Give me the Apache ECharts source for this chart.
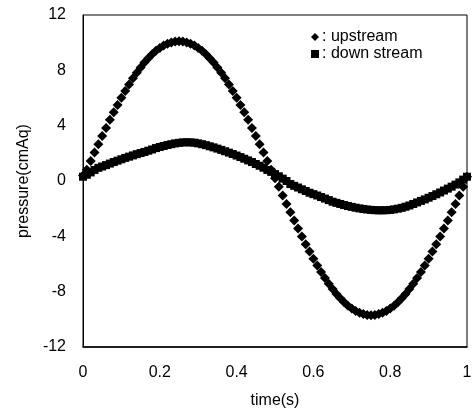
<!DOCTYPE html>
<html>
<head>
<meta charset="utf-8">
<script src="https://cdn.jsdelivr.net/npm/echarts@6/dist/echarts.min.js"></script>
<style>
html,body{margin:0;padding:0;background:#fff;}
#chart{width:472px;height:409px;}
</style>
</head>
<body>
<div id="chart"></div>
<script>
// time samples (s)
var timeValues = [];
for (var i = 0; i <= 100; i++) { timeValues.push(+(i / 100).toFixed(2)); }

// pressure (cmAq)
var upstream = [
 0.40, 0.82, 1.44, 2.06, 2.66, 3.26, 3.84, 4.42, 4.97, 5.50,
 6.02, 6.51, 6.98, 7.42, 7.83, 8.21, 8.56, 8.88, 9.16, 9.41,
 9.62, 9.79, 9.92, 10.02, 10.08, 10.10, 10.08, 10.02, 9.92, 9.79,
 9.62, 9.41, 9.16, 8.88, 8.56, 8.21, 7.83, 7.42, 6.98, 6.51,
 6.02, 5.50, 4.97, 4.42, 3.84, 3.26, 2.66, 2.06, 1.44, 0.82,
 0.20, -0.42, -1.04, -1.66, -2.26, -2.86, -3.44, -4.02, -4.57, -5.10,
 -5.62, -6.11, -6.58, -7.02, -7.43, -7.81, -8.16, -8.48, -8.76, -9.01,
 -9.22, -9.39, -9.52, -9.62, -9.68, -9.70, -9.68, -9.62, -9.52, -9.39,
 -9.22, -9.01, -8.76, -8.48, -8.16, -7.81, -7.43, -7.02, -6.58, -6.11,
 -5.62, -5.10, -4.57, -4.02, -3.44, -2.86, -2.26, -1.66, -1.04, -0.42,
 0.30
];
var downstream = [
 0.31, 0.45, 0.62, 0.80, 0.95, 1.05, 1.15, 1.26, 1.37, 1.47,
 1.57, 1.67, 1.76, 1.85, 1.94, 2.02, 2.10, 2.19, 2.28, 2.38,
 2.46, 2.53, 2.60, 2.66, 2.72, 2.76, 2.79, 2.80, 2.79, 2.77,
 2.72, 2.66, 2.59, 2.51, 2.43, 2.34, 2.25, 2.15, 2.05, 1.95,
 1.84, 1.73, 1.61, 1.49, 1.37, 1.23, 1.10, 0.96, 0.80, 0.66,
 0.50, 0.34, 0.17, 0.00, -0.22, -0.35, -0.47, -0.60, -0.72, -0.85,
 -0.95, -1.05, -1.16, -1.27, -1.38, -1.50, -1.58, -1.66, -1.74, -1.81,
 -1.87, -1.93, -1.98, -2.02, -2.06, -2.09, -2.11, -2.12, -2.12, -2.11,
 -2.09, -2.05, -2.00, -1.94, -1.86, -1.77, -1.66, -1.55, -1.44, -1.33,
 -1.21, -1.09, -0.96, -0.83, -0.69, -0.55, -0.41, -0.26, -0.10, 0.10,
 0.31
];

var seriesNames = ['upstream', 'down stream'];
var xTickLabels = ['0', '0.2', '0.4', '0.6', '0.8', '1'];
var yTickLabels = ['-12', '-8', '-4', '0', '4', '8', '12'];

function pairs(ys) {
  return ys.map(function (v, i) { return [timeValues[i], v]; });
}

var font = 'Liberation Sans, Arial, sans-serif';
var chart = echarts.init(document.getElementById('chart'), null, {renderer: 'canvas'});
chart.setOption({
  backgroundColor: '#fff',
  animation: false,
  grid: {left: 83, right: 5, top: 15, bottom: 62, show: true, borderColor: '#000', borderWidth: 1,
         containLabel: false, outerBoundsMode: 'none'},
  xAxis: {
    type: 'value', min: 0, max: 1, interval: 0.2,
    name: 'time(s)', nameLocation: 'middle', nameGap: 46,
    nameTextStyle: {fontFamily: font, fontSize: 16, color: '#000'},
    axisLine: {show: true, onZero: false, lineStyle: {color: '#000', width: 1.5}},
    axisTick: {show: false},
    splitLine: {show: false},
    axisLabel: {
      margin: 18, fontFamily: font, fontSize: 16, color: '#000',
      formatter: function (v) { return xTickLabels[Math.round(v / 0.2)]; }
    }
  },
  yAxis: {
    type: 'value', min: -12, max: 12, interval: 4,
    name: 'pressure(cmAq)', nameLocation: 'middle', nameGap: 49,
    nameTextStyle: {fontFamily: font, fontSize: 16, color: '#000'},
    axisLine: {show: true, onZero: false, lineStyle: {color: '#000', width: 1}},
    axisTick: {show: false},
    splitLine: {show: false},
    axisLabel: {
      margin: 17, fontFamily: font, fontSize: 16, color: '#000',
      formatter: function (v) { return yTickLabels[Math.round((v + 12) / 4)]; }
    }
  },
  legend: {
    orient: 'vertical', left: 306, top: 24, itemGap: 1,
    itemWidth: 8, itemHeight: 8,
    textStyle: {fontFamily: font, fontSize: 16, color: '#000', padding: [0, 0, 0, -2]},
    formatter: function (n) { return ': ' + n; },
    data: [
      {name: seriesNames[0], icon: 'diamond'},
      {name: seriesNames[1], icon: 'rect'}
    ]
  },
  series: [
    {
      name: seriesNames[0], type: 'scatter', symbol: 'diamond', symbolSize: 10,
      itemStyle: {color: '#000', opacity: 1}, data: pairs(upstream)
    },
    {
      name: seriesNames[1], type: 'scatter', symbol: 'rect', symbolSize: 8,
      itemStyle: {color: '#000', opacity: 1}, data: pairs(downstream)
    }
  ]
});
</script>
</body>
</html>
